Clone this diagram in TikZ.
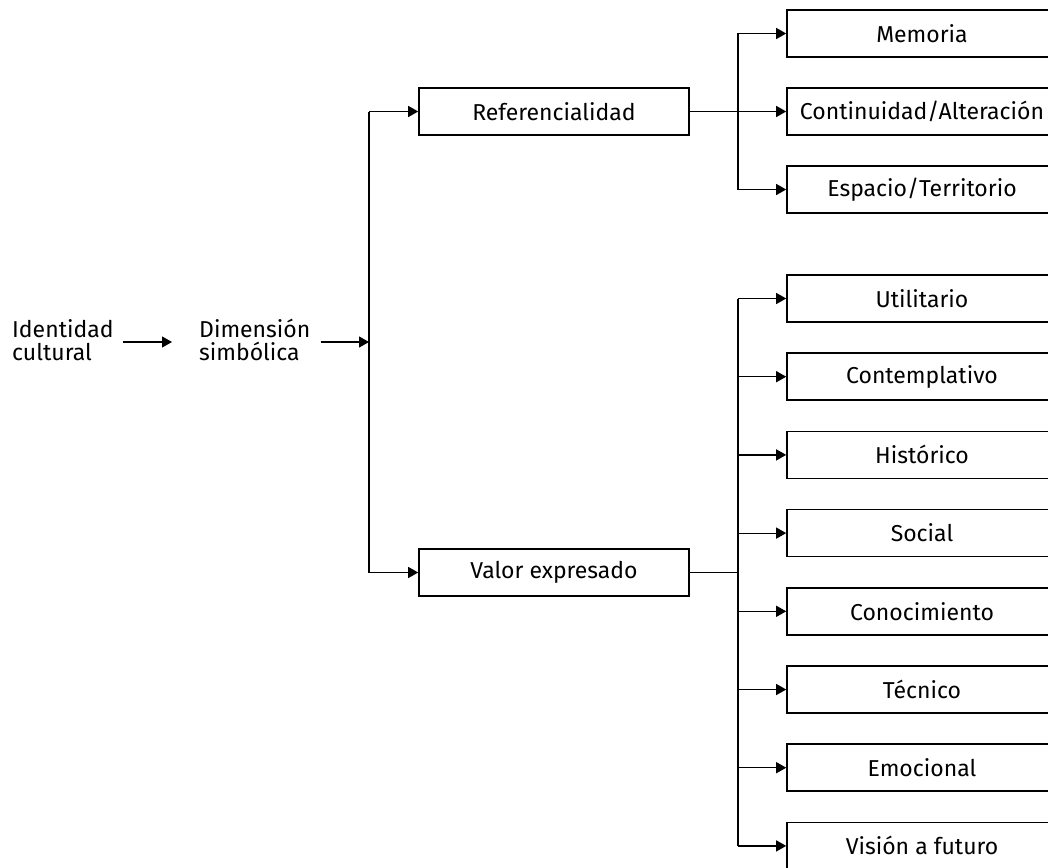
\documentclass[tikz,border=0pt]{standalone}
\usepackage{fontspec}
\setmainfont{Fira Sans}
\usetikzlibrary{arrows.meta}
\begin{document}
\begin{tikzpicture}[x=1pt,y=-1pt,
  every node/.style={font=\fontsize{23}{23}\selectfont},
  box/.style={draw, line width=1.6pt, minimum width=270pt, minimum height=47pt, inner sep=0pt},
  lbl/.style={align=left, inner sep=0pt, anchor=west},
  conn/.style={line width=1.2pt},
  arr/.style={conn, -{Triangle[length=10pt,width=11pt]}}]
\useasboundingbox (0,0) rectangle (1048,867);
\clip (0,0) rectangle (1048,867);
% left texts
\node[lbl] (id) at (12,340) {Identidad\\cultural};
\node[lbl] (dim) at (199,340) {Dimensión\\simbólica};
\coordinate (jt) at (369,111.5);
\coordinate (jm) at (369,342);
\coordinate (jb) at (369,572.5);
\draw[arr, shorten <=9pt, shorten >=27pt] (id.east |- jm) -- (dim.west |- jm);
\draw[arr, shorten <=10pt] (dim.east |- jm) -- (jm);
% level 2
\node[box] (ref) at (554,111.5) {Referencialidad};
\node[box] (val) at (554,572.5) {Valor expresado};
\draw[conn] (jt) -- (jb);
\draw[arr] (jt) -- (ref.west);
\draw[arr] (jb) -- (val.west);
% level 3 upper
\coordinate (ra) at (738,0);
\node[box] (m1) at (922,33.5) {Memoria};
\node[box] (m2) at (922,111.5) {Continuidad/Alteración};
\node[box] (m3) at (922,189.5) {Espacio/Territorio};
\draw[conn] (ra |- m1) -- (ra |- m3);
\draw[conn] (ref.east) -- (ra |- ref);
\foreach \n in {m1,m2,m3} \draw[arr] (ra |- \n) -- (\n.west);
% level 3 lower
\foreach \t [count=\k from 0] in {Utilitario,Contemplativo,Histórico,Social,Conocimiento,Técnico,Emocional,Visión a futuro}
  \node[box] (v\k) at (922,{298.5+78.2*\k}) {\t};
\draw[conn] (ra |- v0) -- (ra |- v7);
\draw[conn] (val.east) -- (ra |- val);
\foreach \k in {0,...,7} \draw[arr] (ra |- v\k) -- (v\k.west);
\end{tikzpicture}
\end{document}
